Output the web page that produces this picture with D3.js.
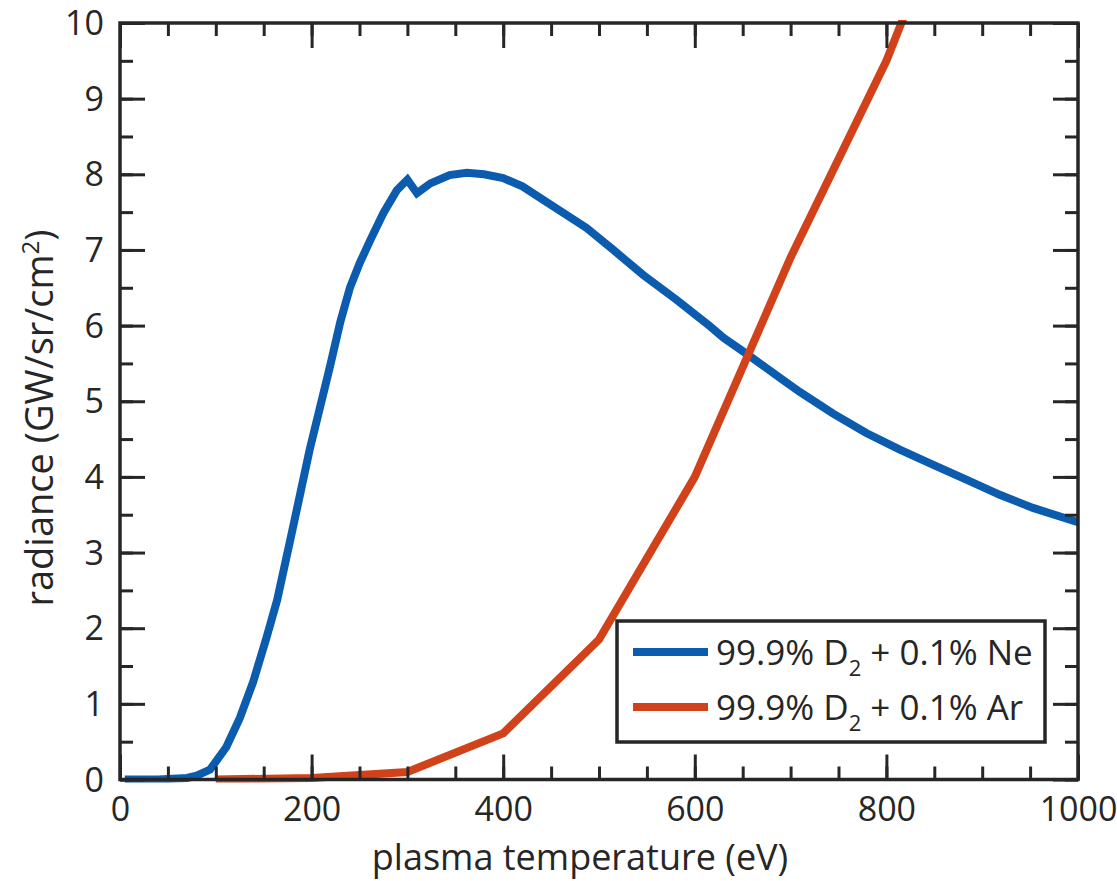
<!DOCTYPE html>
<html>
<head>
<meta charset="utf-8">
<script src="https://cdn.jsdelivr.net/npm/d3@7"></script>
<style>
  body { margin: 0; background: #fff; }
  text { font-family: "Open Sans", sans-serif; fill: #262626; }
</style>
</head>
<body>
<svg id="chart"></svg>
<script>
// temperature (eV) and radiance (GW/sr/cm^2)
const neTemp = [5, 40, 70, 80, 94, 111, 125, 139, 153, 164, 180, 198, 219, 230, 240, 250, 262, 275, 289, 300,
  310, 324, 344, 362, 380, 400, 420, 447, 487, 515, 546, 581, 616, 630, 656, 692, 710, 744,
  779, 814, 849, 884, 919, 953, 1000];
const neRad = [0, 0, 0.02, 0.05, 0.13, 0.43, 0.81, 1.29, 1.88, 2.37, 3.3, 4.36, 5.45, 6.05, 6.5, 6.82, 7.15, 7.49, 7.79, 7.93,
  7.75, 7.88, 7.99, 8.02, 8.0, 7.95, 7.84, 7.62, 7.29, 7.0, 6.67, 6.34, 5.99, 5.84, 5.61, 5.28, 5.12, 4.84,
  4.58, 4.36, 4.16, 3.96, 3.76, 3.59, 3.40];

const arTemp = [100, 200, 300, 400, 500, 600, 700, 800, 900];
const arRad = [0, 0.02, 0.1, 0.61, 1.85, 4.0, 6.9, 9.5, 12.7];

const seriesNames = ["Ne", "Ar"];
const xTicks = [0, 200, 400, 600, 800, 1000];
const yTicks = [0, 1, 2, 3, 4, 5, 6, 7, 8, 9, 10];

function drawChart() {
    let width = 1117;
    let height = 881;
    let left = 120, right = 1078, top = 23, bottom = 779.5;
    let ink = "#262626";
    let colors = ["#0b5cae", "#d2421a"];

    let svg = d3.select("#chart")
    .attr("width", width)
    .attr("height", height);

    let scaleX = d3.scaleLinear().domain([0, 1000]).range([left, right]);
    let scaleY = d3.scaleLinear().domain([0, 10]).range([bottom, top]);

    // clip curves to the axes box
    svg.append("clipPath").attr("id", "plotClip")
    .append("rect")
    .attr("x", left).attr("y", top - 3)
    .attr("width", right - left).attr("height", bottom - top + 6);

    let line = d3.line()
    .x(d => scaleX(d[0]))
    .y(d => scaleY(d[1]));

    let series = [
        d3.zip(neTemp, neRad),
        d3.zip(arTemp, arRad)
    ];

    svg.append("g")
    .attr("clip-path", "url(#plotClip)")
    .selectAll("path")
    .data(series)
    .enter()
    .append("path")
    .attr("d", line)
    .attr("fill", "none")
    .attr("stroke", (d, i) => colors[i])
    .attr("stroke-width", 8)
    .attr("stroke-linejoin", "miter");

    // minor ticks
    let minorX = d3.range(0, 1001, 50);
    let minorY = d3.range(0, 10.01, 0.5);
    let styleAxis = g => {
        g.select(".domain").remove();
        g.selectAll("line").attr("stroke", ink).attr("stroke-width", 3);
    };
    svg.append("g").attr("transform", `translate(0, ${bottom})`)
    .call(d3.axisBottom(scaleX).tickValues(minorX).tickSize(-13).tickFormat(""))
    .call(styleAxis);
    svg.append("g").attr("transform", `translate(0, ${top})`)
    .call(d3.axisTop(scaleX).tickValues(minorX).tickSize(-13).tickFormat(""))
    .call(styleAxis);
    svg.append("g").attr("transform", `translate(${left}, 0)`)
    .call(d3.axisLeft(scaleY).tickValues(minorY).tickSize(-13).tickFormat(""))
    .call(styleAxis);
    svg.append("g").attr("transform", `translate(${right}, 0)`)
    .call(d3.axisRight(scaleY).tickValues(minorY).tickSize(-13).tickFormat(""))
    .call(styleAxis);

    // major ticks with labels
    svg.append("g").attr("transform", `translate(0, ${bottom})`)
    .call(d3.axisBottom(scaleX).tickValues(xTicks).tickSize(-25).tickPadding(17).tickFormat(d3.format("d")))
    .call(styleAxis)
    .selectAll("text").attr("font-size", 34).attr("fill", ink);
    svg.append("g").attr("transform", `translate(0, ${top})`)
    .call(d3.axisTop(scaleX).tickValues(xTicks).tickSize(-25).tickFormat(""))
    .call(styleAxis);
    svg.append("g").attr("transform", `translate(${left}, 0)`)
    .call(d3.axisLeft(scaleY).tickValues(yTicks).tickSize(-25).tickPadding(16).tickFormat(d3.format("d")))
    .call(styleAxis)
    .selectAll("text").attr("font-size", 34).attr("fill", ink).attr("dy", "0.34em");
    svg.append("g").attr("transform", `translate(${right}, 0)`)
    .call(d3.axisRight(scaleY).tickValues(yTicks).tickSize(-25).tickFormat(""))
    .call(styleAxis);

    // box
    svg.append("rect")
    .attr("x", left).attr("y", top)
    .attr("width", right - left).attr("height", bottom - top)
    .attr("fill", "none")
    .attr("stroke", ink)
    .attr("stroke-width", 3.5);

    // axis titles
    svg.append("text")
    .attr("x", 580)
    .attr("y", 870)
    .style("text-anchor", "middle")
    .style("font-size", "36px")
    .text("plasma temperature (eV)");

    let yTitle = svg.append("text")
    .attr("transform", "translate(53, 418) rotate(-90)")
    .style("text-anchor", "middle")
    .style("font-size", "38px");
    yTitle.append("tspan").text("radiance (GW/sr/cm");
    yTitle.append("tspan").attr("dy", -14).style("font-size", "24px").text("2");
    yTitle.append("tspan").attr("dy", 14).text(")");

    // legend
    let legend = svg.append("g");
    legend.append("rect")
    .attr("x", 617).attr("y", 621)
    .attr("width", 428).attr("height", 121)
    .attr("fill", "#fff")
    .attr("stroke", ink)
    .attr("stroke-width", 3.5);

    seriesNames.forEach((name, i) => {
        let cy = 652 + i * 55;
        legend.append("line")
        .attr("x1", 633).attr("x2", 708)
        .attr("y1", cy).attr("y2", cy)
        .attr("stroke", colors[i])
        .attr("stroke-width", 8);
        let t = legend.append("text")
        .attr("x", 716)
        .attr("y", cy + 13)
        .style("font-size", "35px");
        t.append("tspan").text("99.9% D");
        t.append("tspan").attr("dy", 11).style("font-size", "22px").text("2");
        t.append("tspan").attr("dy", -11).text(" + 0.1% " + name);
    });
}

drawChart();
</script>
</body>
</html>
